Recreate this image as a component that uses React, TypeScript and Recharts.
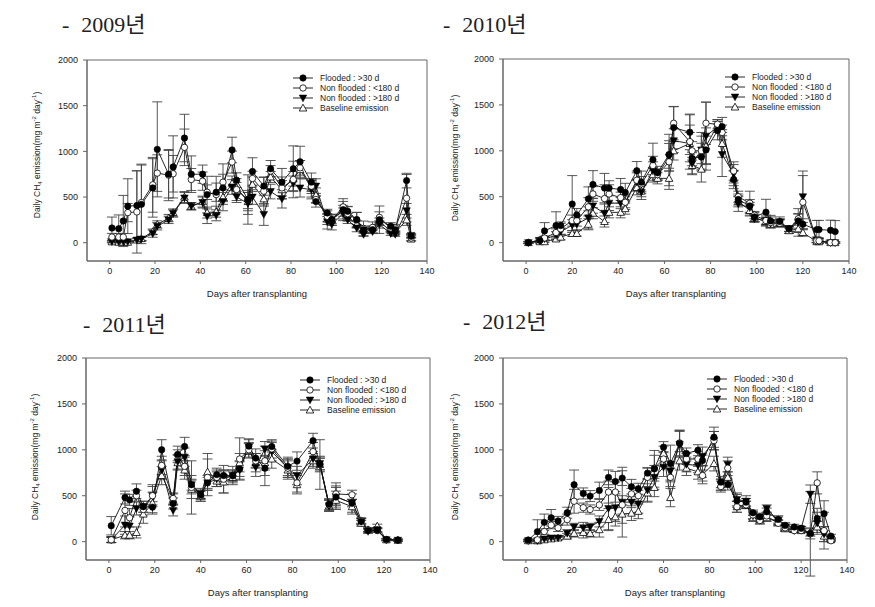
import React from "react";
import { LineChart, Line, XAxis, YAxis, ErrorBar, ReferenceArea, Label } from "recharts";

const xTicks = [0, 20, 40, 60, 80, 100, 120, 140];
const yTicks = [0, 500, 1000, 1500, 2000];
const seriesNames = [
  "Flooded : >30 d",
  "Non flooded : <180 d",
  "Non flooded : >180 d",
  "Baseline emission",
];

// 2009
const days2009 = [1, 4, 6, 8, 12, 14, 19, 21, 26, 28, 33, 36, 41, 43, 47, 50, 54, 56, 61, 63, 68, 71, 76, 81, 84, 89, 91, 96, 98, 103, 105, 109, 112, 116, 119, 124, 126, 131, 133];
const flooded2009 = [161, 154, 238, 400, 407, 420, 600, 1022, 750, 830, 1146, 750, 750, 527, 553, 600, 1015, 685, 473, 780, 620, 810, 663, 810, 886, 663, 450, 326, 252, 362, 344, 252, 143, 143, 252, 180, 143, 680, 70];
const nfLow2009 = [62, 62, 62, 330, 337, 440, 634, 762, 740, 755, 1044, 692, 674, 553, 527, 663, 883, 582, 473, 703, 564, 784, 600, 692, 820, 619, 473, 289, 252, 392, 318, 252, 157, 168, 278, 161, 161, 487, 51];
const nfHigh2009 = [10, 10, 10, 10, 30, 40, 100, 180, 250, 320, 490, 400, 440, 290, 300, 450, 610, 500, 430, 500, 310, 560, 480, 650, 600, 580, 620, 230, 200, 320, 250, 160, 90, 120, 200, 100, 90, 350, 80];
const base2009 = [10, 5, 5, 5, 30, 45, 120, 200, 270, 330, 500, 400, 450, 330, 340, 500, 650, 600, 450, 640, 480, 720, 580, 700, 800, 600, 520, 260, 250, 350, 280, 200, 150, 160, 230, 130, 110, 250, 40];
const floodedErr2009 = [120, 150, 280, 300, 380, 430, 320, 520, 260, 340, 260, 200, 100, 200, 100, 150, 140, 80, 270, 150, 100, 90, 150, 250, 170, 100, 60, 40, 40, 120, 50, 80, 40, 40, 150, 40, 40, 80, 20];
const nfLowErr2009 = [40, 40, 40, 100, 450, 420, 300, 200, 280, 200, 200, 120, 100, 80, 200, 200, 120, 120, 100, 80, 150, 60, 120, 200, 80, 80, 40, 60, 60, 60, 80, 80, 80, 60, 60, 40, 40, 260, 30];
const nfHighErr2009 = [10, 10, 10, 10, 20, 20, 40, 40, 40, 40, 60, 40, 60, 80, 60, 100, 80, 60, 120, 80, 120, 80, 100, 80, 100, 100, 80, 80, 60, 60, 40, 40, 20, 20, 40, 20, 20, 80, 20];
const baseErr2009 = [10, 10, 10, 10, 20, 20, 30, 40, 40, 40, 60, 40, 60, 60, 60, 80, 80, 60, 100, 80, 80, 60, 100, 80, 100, 100, 80, 60, 60, 60, 40, 40, 20, 20, 40, 20, 20, 60, 20];

// 2010
const days2010 = [1, 6, 8, 13, 15, 20, 22, 27, 29, 34, 36, 41, 43, 48, 50, 55, 57, 62, 64, 71, 72, 76, 78, 83, 85, 90, 92, 97, 99, 104, 106, 110, 114, 118, 120, 126, 127, 132, 134];
const flooded2010 = [0, 25, 128, 186, 186, 420, 302, 477, 634, 594, 594, 579, 546, 783, 659, 903, 761, 960, 1253, 1202, 918, 932, 1010, 1220, 1264, 688, 470, 400, 280, 332, 237, 230, 153, 237, 200, 142, 142, 135, 120];
const nfLow2010 = [0, 30, 50, 110, 150, 240, 240, 390, 530, 480, 530, 490, 440, 680, 640, 840, 740, 880, 1300, 1100, 1000, 1000, 1300, 1290, 1200, 780, 500, 430, 300, 240, 220, 210, 150, 260, 440, 20, 20, 0, 0];
const nfHigh2010 = [0, 20, 40, 80, 120, 190, 200, 270, 400, 320, 430, 430, 440, 660, 550, 780, 740, 930, 1110, 1080, 860, 1010, 1160, 1260, 960, 750, 420, 380, 260, 240, 210, 220, 150, 220, 500, 30, 20, 0, 0];
const base2010 = [0, 10, 10, 40, 60, 100, 100, 200, 320, 230, 330, 330, 370, 600, 560, 740, 700, 700, 1000, 1080, 840, 800, 1050, 1280, 1080, 700, 450, 350, 270, 230, 200, 210, 130, 150, 110, 10, 10, 0, 0];
const floodedErr2010 = [10, 30, 90, 150, 40, 310, 70, 130, 150, 160, 80, 120, 100, 100, 120, 180, 70, 150, 230, 190, 80, 150, 150, 100, 100, 100, 60, 70, 50, 140, 60, 50, 30, 80, 60, 100, 100, 110, 120];
const nfLowErr2010 = [10, 20, 20, 40, 60, 60, 60, 100, 80, 150, 100, 60, 80, 100, 80, 100, 60, 300, 180, 300, 100, 200, 230, 50, 80, 100, 60, 130, 40, 60, 60, 40, 30, 50, 290, 20, 20, 10, 10];
const nfHighErr2010 = [10, 20, 20, 40, 40, 60, 60, 120, 80, 100, 80, 60, 60, 100, 80, 100, 60, 150, 130, 200, 120, 150, 370, 60, 240, 100, 80, 60, 40, 40, 40, 40, 30, 150, 280, 30, 30, 10, 10];
const baseErr2010 = [10, 10, 10, 20, 30, 30, 30, 60, 60, 60, 60, 60, 60, 80, 60, 80, 60, 80, 100, 120, 90, 140, 200, 60, 150, 80, 60, 60, 40, 40, 40, 40, 30, 40, 40, 10, 10, 10, 10];

// 2011
const days2011 = [1, 7, 9, 12, 15, 19, 23, 28, 30, 33, 36, 40, 43, 47, 50, 54, 57, 61, 64, 68, 71, 78, 82, 89, 92, 96, 99, 106, 110, 113, 117, 121, 126];
const flooded2011 = [173, 480, 455, 549, 380, 375, 1000, 415, 950, 1036, 620, 510, 640, 730, 720, 720, 790, 1040, 910, 800, 1036, 820, 877, 1100, 845, 408, 487, 420, 220, 123, 126, 25, 18];
const nfLow2011 = [20, 340, 260, 500, 350, 500, 830, 470, 940, 820, 590, 500, 700, 700, 680, 720, 900, 1000, 880, 880, 1010, 800, 640, 980, 840, 400, 520, 510, 230, 130, 120, 20, 15];
const nfHigh2011 = [20, 180, 170, 360, 380, 500, 780, 340, 870, 920, 620, 520, 640, 680, 700, 720, 780, 1030, 810, 1010, 980, 800, 720, 900, 850, 390, 490, 420, 220, 110, 130, 20, 15];
const base2011 = [20, 70, 70, 100, 300, 420, 720, 460, 860, 780, 570, 500, 760, 660, 650, 700, 860, 990, 860, 860, 900, 780, 620, 880, 840, 390, 450, 380, 200, 130, 170, 20, 15];
const floodedErr2011 = [100, 70, 60, 80, 60, 60, 110, 60, 90, 100, 60, 40, 60, 50, 60, 60, 80, 80, 100, 190, 60, 100, 100, 80, 60, 60, 120, 100, 30, 20, 20, 10, 10];
const nfLowErr2011 = [30, 180, 100, 60, 60, 120, 100, 60, 60, 100, 290, 60, 200, 100, 150, 100, 230, 80, 80, 160, 100, 100, 100, 100, 270, 60, 120, 50, 30, 20, 20, 10, 10];
const nfHighErr2011 = [30, 100, 100, 70, 60, 100, 100, 60, 80, 100, 100, 60, 80, 80, 80, 60, 100, 80, 100, 80, 100, 100, 100, 80, 80, 60, 100, 40, 30, 20, 20, 10, 10];
const baseErr2011 = [30, 40, 40, 60, 100, 120, 100, 60, 80, 100, 100, 60, 200, 60, 120, 60, 100, 80, 100, 80, 100, 100, 100, 80, 80, 60, 100, 80, 30, 20, 20, 10, 10];

// 2012
const days2012 = [1, 5, 8, 11, 14, 18, 21, 25, 28, 32, 36, 39, 42, 46, 49, 53, 56, 60, 63, 67, 70, 75, 77, 82, 85, 88, 92, 96, 99, 102, 105, 110, 113, 117, 120, 124, 127, 130, 133];
const flooded2012 = [18, 108, 210, 260, 225, 315, 620, 525, 496, 558, 700, 655, 692, 598, 576, 746, 793, 1029, 851, 1070, 960, 996, 883, 1137, 648, 622, 444, 430, 314, 270, 325, 242, 177, 159, 145, 90, 253, 305, 60];
const nfLow2012 = [10, 20, 110, 180, 150, 240, 440, 370, 350, 400, 540, 540, 400, 520, 500, 700, 800, 900, 700, 1075, 900, 900, 720, 1100, 600, 800, 380, 400, 290, 230, 280, 200, 150, 120, 120, 85, 640, 120, 10];
const nfHigh2012 = [10, 10, 30, 40, 40, 90, 160, 150, 160, 220, 360, 370, 430, 430, 410, 560, 700, 810, 770, 1060, 840, 830, 930, 1100, 620, 840, 460, 440, 280, 260, 360, 230, 160, 120, 140, 517, 200, 80, 30];
const base2012 = [10, 10, 20, 30, 40, 60, 90, 100, 90, 130, 240, 270, 300, 310, 330, 530, 590, 960, 480, 880, 800, 760, 730, 850, 620, 700, 380, 400, 260, 240, 260, 210, 140, 130, 120, 100, 160, 60, 20];
const floodedErr2012 = [10, 130, 90, 90, 50, 60, 160, 60, 60, 90, 80, 110, 80, 80, 60, 60, 200, 60, 200, 140, 60, 60, 60, 110, 60, 60, 70, 40, 30, 40, 40, 40, 30, 30, 20, 60, 110, 140, 20];
const nfLowErr2012 = [10, 10, 30, 40, 40, 60, 130, 50, 50, 60, 120, 110, 100, 60, 60, 100, 140, 80, 100, 140, 60, 80, 60, 100, 60, 80, 60, 40, 40, 40, 40, 30, 30, 20, 20, 460, 120, 200, 10];
const nfHighErr2012 = [10, 10, 20, 20, 20, 40, 40, 60, 40, 60, 230, 150, 380, 60, 100, 120, 130, 100, 100, 140, 80, 80, 100, 100, 60, 80, 70, 60, 40, 40, 40, 40, 30, 20, 20, 100, 120, 80, 10];
const baseErr2012 = [10, 10, 10, 20, 20, 30, 40, 60, 40, 80, 120, 100, 100, 80, 80, 100, 100, 80, 100, 100, 80, 80, 100, 80, 60, 60, 60, 40, 40, 40, 40, 30, 30, 20, 20, 40, 60, 60, 10];

const buildRows = (days: number[], f: number[], l: number[], g: number[], b: number[], fe: number[], le: number[], ge: number[], be: number[]) =>
  days.map((d, i) => ({ day: d, f: f[i], l: l[i], g: g[i], b: b[i], fe: fe[i], le: le[i], ge: ge[i], be: be[i] }));

const panels = [
  {
    title: "2009년", left: 0, top: 0, width: 440, height: 300,
    plot: { l: 87, t: 60, r: 427, b: 261 },
    titleX: 62, titleY: 11, legendX: 293, legendY: 78, yLabelX: 37, yLabelY: 155,
    rows: buildRows(days2009, flooded2009, nfLow2009, nfHigh2009, base2009, floodedErr2009, nfLowErr2009, nfHighErr2009, baseErr2009),
  },
  {
    title: "2010년", left: 440, top: 0, width: 435, height: 300,
    plot: { l: 63, t: 59, r: 409, b: 261 },
    titleX: 443, titleY: 11, legendX: 725, legendY: 77, yLabelX: 455, yLabelY: 158,
    rows: buildRows(days2010, flooded2010, nfLow2010, nfHigh2010, base2010, floodedErr2010, nfLowErr2010, nfHighErr2010, baseErr2010),
  },
  {
    title: "2011년", left: 0, top: 300, width: 440, height: 307,
    plot: { l: 86, t: 58, r: 430, b: 260 },
    titleX: 83, titleY: 311, legendX: 300, legendY: 380, yLabelX: 35, yLabelY: 457,
    rows: buildRows(days2011, flooded2011, nfLow2011, nfHigh2011, base2011, floodedErr2011, nfLowErr2011, nfHighErr2011, baseErr2011),
  },
  {
    title: "2012년", left: 440, top: 300, width: 435, height: 307,
    plot: { l: 63, t: 58, r: 407, b: 260 },
    titleX: 463, titleY: 308, legendX: 707, legendY: 379, yLabelX: 455, yLabelY: 457,
    rows: buildRows(days2012, flooded2012, nfLow2012, nfHigh2012, base2012, floodedErr2012, nfLowErr2012, nfHighErr2012, baseErr2012),
  },
];

type Shape = "dot" | "circle" | "down" | "up";

const Marker = ({ cx, cy, shape }: { cx: number; cy: number; shape: Shape }) => {
  if (shape === "dot") return <circle cx={cx} cy={cy} r={3.2} fill="#000" stroke="#000" strokeWidth={0.6} />;
  if (shape === "circle") return <circle cx={cx} cy={cy} r={3.2} fill="#fff" stroke="#000" strokeWidth={0.8} />;
  if (shape === "down")
    return <polygon points={`${cx - 3.8},${cy - 3} ${cx + 3.8},${cy - 3} ${cx},${cy + 3.8}`} fill="#000" stroke="#000" strokeWidth={0.5} />;
  return <polygon points={`${cx},${cy - 3.8} ${cx + 3.8},${cy + 3} ${cx - 3.8},${cy + 3}`} fill="#fff" stroke="#000" strokeWidth={0.8} />;
};

const makeDot = (shape: Shape) => (props: any) => {
  const { cx, cy, index } = props;
  if (cx == null || cy == null) return <g key={`${shape}-${index}`} />;
  return (
    <g key={`${shape}-${index}`}>
      <Marker cx={cx} cy={cy} shape={shape} />
    </g>
  );
};

const shapes: Shape[] = ["dot", "circle", "down", "up"];
const keys = ["f", "l", "g", "b"];

const tickStyle = { fontSize: 9, fill: "#222", fontFamily: "Liberation Sans, Arial, sans-serif" };

const Panel = ({ p }: { p: (typeof panels)[number] }) => (
  <div style={{ position: "absolute", left: p.left, top: p.top }}>
    <LineChart
      width={p.width}
      height={p.height}
      data={p.rows}
      margin={{ top: p.plot.t, right: p.width - p.plot.r, left: 0, bottom: 0 }}
    >
      <XAxis
        dataKey="day"
        type="number"
        domain={[-10, 140]}
        ticks={xTicks}
        allowDataOverflow
        height={p.height - p.plot.b}
        stroke="#666"
        tickSize={3}
        tickMargin={4}
        tick={tickStyle}
      >
        <Label
          value="Days after transplanting"
          position="insideBottom"
          offset={p.height - p.plot.b - 36}
          style={{ fontSize: 9.5, fill: "#222", fontFamily: "Liberation Sans, Arial, sans-serif" }}
        />
      </XAxis>
      <YAxis
        type="number"
        domain={[-200, 2000]}
        ticks={yTicks}
        allowDataOverflow
        width={p.plot.l}
        stroke="#666"
        tickSize={4}
        tickMargin={5}
        tick={tickStyle}
      />
      <ReferenceArea x1={-10} x2={140} y1={-200} y2={2000} fill="none" stroke="#666" strokeWidth={1} />
      {[3, 2, 1, 0].map((i) => (
        <Line
          key={keys[i]}
          dataKey={keys[i]}
          stroke="#111"
          strokeWidth={0.9}
          dot={makeDot(shapes[i])}
          activeDot={false}
          isAnimationActive={false}
        >
          <ErrorBar dataKey={keys[i] + "e"} width={5} stroke="#444" strokeWidth={0.9} direction="y" />
        </Line>
      ))}
    </LineChart>
  </div>
);

const LegendBox = ({ x, y }: { x: number; y: number }) => (
  <svg style={{ position: "absolute", left: x, top: y - 6 }} width={130} height={44}>
    {seriesNames.map((name, i) => {
      const cy = 6 + i * 10;
      return (
        <g key={name}>
          <line x1={0} x2={20} y1={cy} y2={cy} stroke="#111" strokeWidth={0.9} />
          <Marker cx={10} cy={cy} shape={shapes[i]} />
          <text x={27} y={cy + 3} fontSize={8.5} fill="#222" fontFamily="Liberation Sans, Arial, sans-serif">
            {name}
          </text>
        </g>
      );
    })}
  </svg>
);

const YLabel = ({ x, y }: { x: number; y: number }) => (
  <div
    style={{
      position: "absolute",
      left: x,
      top: y,
      transform: "translate(-50%, -50%) rotate(-90deg)",
      whiteSpace: "nowrap",
      fontSize: 8.5,
      color: "#222",
      fontFamily: "Liberation Sans, Arial, sans-serif",
      lineHeight: "10px",
    }}
  >
    Daily CH<sub style={{ fontSize: 6 }}>4</sub> emission(mg m<sup style={{ fontSize: 6 }}>-2</sup> day<sup style={{ fontSize: 6 }}>-1</sup>)
  </div>
);

export default function App() {
  return (
    <div style={{ position: "absolute", left: 0, top: 0, width: 875, height: 607, background: "#fff", overflow: "hidden" }}>
      {panels.map((p) => (
        <React.Fragment key={p.title}>
          <div
            style={{
              position: "absolute",
              left: p.titleX,
              top: p.titleY,
              fontSize: 22,
              lineHeight: "28px",
              color: "#222",
              fontFamily: "Liberation Serif, 'Noto Sans CJK KR', serif",
              whiteSpace: "nowrap",
            }}
          >
            <span>-</span>
            <span style={{ marginLeft: 12 }}>{p.title}</span>
          </div>
          <Panel p={p} />
          <LegendBox x={p.legendX} y={p.legendY} />
          <YLabel x={p.yLabelX} y={p.yLabelY} />
        </React.Fragment>
      ))}
    </div>
  );
}
